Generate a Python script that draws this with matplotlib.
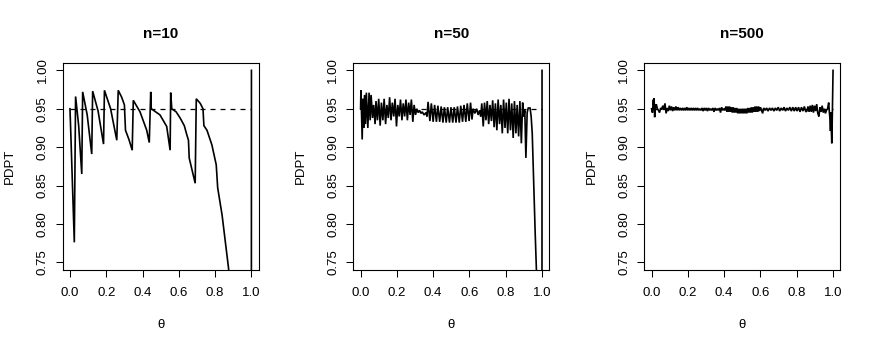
import matplotlib
matplotlib.use("Agg")
import matplotlib.pyplot as plt

plt.rcParams["font.family"] = ["Liberation Sans", "DejaVu Sans"]

# coverage curves
n10_theta = [0.000, 0.003, 0.024, 0.031, 0.048, 0.065, 0.070, 0.095, 0.120,
             0.125, 0.155, 0.185, 0.190, 0.224, 0.258, 0.266, 0.285, 0.300,
             0.306, 0.325, 0.343, 0.349, 0.386, 0.423, 0.437, 0.445, 0.448,
             0.496, 0.533, 0.552, 0.555, 0.561, 0.585, 0.607, 0.630, 0.644,
             0.653, 0.657, 0.690, 0.696, 0.718, 0.733, 0.738, 0.755, 0.782,
             0.806, 0.814, 0.838, 0.856, 0.874, 0.900, 0.950, 0.999, 1.000]
n10_pdpt = [0.950, 0.930, 0.776, 0.966, 0.928, 0.865, 0.972, 0.942, 0.891,
            0.973, 0.947, 0.904, 0.974, 0.950, 0.909, 0.974, 0.965, 0.955,
            0.922, 0.910, 0.896, 0.961, 0.946, 0.922, 0.906, 0.972, 0.950,
            0.942, 0.927, 0.896, 0.971, 0.950, 0.946, 0.938, 0.928, 0.916,
            0.909, 0.886, 0.853, 0.963, 0.957, 0.950, 0.928, 0.922, 0.903,
            0.877, 0.847, 0.812, 0.777, 0.742, 0.620, 0.350, 0.000, 1.000]

n50_theta = [0.000, 0.002, 0.009, 0.013, 0.017, 0.022, 0.027, 0.032, 0.040,
             0.047, 0.053, 0.058, 0.066, 0.072, 0.080, 0.085, 0.093, 0.100,
             0.108, 0.115, 0.123, 0.130, 0.138, 0.145, 0.153, 0.160, 0.168,
             0.175, 0.183, 0.190, 0.198, 0.205, 0.213, 0.220, 0.228, 0.235,
             0.243, 0.250, 0.258, 0.265, 0.273, 0.280, 0.288, 0.295, 0.303,
             0.310, 0.318, 0.325, 0.333, 0.340, 0.350, 0.360, 0.366, 0.372,
             0.382, 0.390, 0.400, 0.408, 0.418, 0.426, 0.436, 0.444, 0.454,
             0.462, 0.472, 0.480, 0.490, 0.498, 0.508, 0.516, 0.526, 0.534,
             0.544, 0.552, 0.562, 0.570, 0.580, 0.588, 0.598, 0.606, 0.614,
             0.620, 0.630, 0.640, 0.648, 0.656, 0.662, 0.668, 0.676, 0.683,
             0.691, 0.698, 0.706, 0.713, 0.721, 0.728, 0.736, 0.743, 0.751,
             0.758, 0.766, 0.773, 0.781, 0.788, 0.796, 0.803, 0.811, 0.818,
             0.826, 0.833, 0.841, 0.848, 0.856, 0.863, 0.871, 0.878, 0.886,
             0.893, 0.899, 0.905, 0.911, 0.918, 0.924, 0.934, 0.940, 0.946,
             0.954, 0.962, 0.969, 0.975, 0.990, 0.999, 1.000]
n50_pdpt = [0.950, 0.974, 0.910, 0.963, 0.925, 0.968, 0.930, 0.971, 0.925,
            0.971, 0.935, 0.968, 0.938, 0.955, 0.930, 0.960, 0.935, 0.963,
            0.928, 0.958, 0.935, 0.963, 0.930, 0.955, 0.938, 0.965, 0.935,
            0.958, 0.940, 0.963, 0.927, 0.955, 0.940, 0.962, 0.935, 0.957,
            0.940, 0.962, 0.935, 0.958, 0.942, 0.962, 0.933, 0.955, 0.942,
            0.950, 0.945, 0.948, 0.944, 0.946, 0.942, 0.945, 0.940, 0.959,
            0.934, 0.957, 0.933, 0.955, 0.933, 0.954, 0.933, 0.953, 0.932,
            0.952, 0.932, 0.952, 0.932, 0.952, 0.932, 0.952, 0.932, 0.953,
            0.932, 0.954, 0.933, 0.955, 0.933, 0.957, 0.934, 0.958, 0.936,
            0.950, 0.944, 0.950, 0.942, 0.948, 0.940, 0.957, 0.927, 0.958,
            0.935, 0.960, 0.930, 0.955, 0.934, 0.961, 0.926, 0.957, 0.922,
            0.962, 0.930, 0.955, 0.918, 0.962, 0.925, 0.958, 0.918, 0.963,
            0.922, 0.957, 0.912, 0.960, 0.918, 0.955, 0.914, 0.960, 0.905,
            0.958, 0.940, 0.948, 0.886, 0.945, 0.951, 0.951, 0.940, 0.918,
            0.853, 0.790, 0.740, 0.600, 0.200, 0.000, 1.000]

n500_theta = [0.000, 0.005, 0.010, 0.012, 0.014, 0.017, 0.022, 0.026, 0.032,
              0.038, 0.044, 0.050, 0.056, 0.062, 0.068, 0.074, 0.080, 0.086,
              0.092, 0.098, 0.104, 0.110, 0.116, 0.122, 0.128, 0.134, 0.140,
              0.146, 0.152, 0.158, 0.164, 0.170, 0.176, 0.182, 0.188, 0.194,
              0.200, 0.206, 0.212, 0.218, 0.224, 0.230, 0.236, 0.242, 0.248,
              0.254, 0.260, 0.266, 0.272, 0.278, 0.284, 0.290, 0.296, 0.302,
              0.308, 0.314, 0.320, 0.326, 0.332, 0.338, 0.344, 0.350, 0.356,
              0.362, 0.368, 0.374, 0.380, 0.386, 0.392, 0.398, 0.404,
              0.410, 0.415, 0.420, 0.425, 0.430, 0.435, 0.440, 0.445, 0.450,
              0.455, 0.460, 0.465, 0.470, 0.475, 0.480, 0.485, 0.490, 0.495,
              0.500, 0.505, 0.510, 0.515, 0.520, 0.525, 0.530, 0.535, 0.540,
              0.545, 0.550, 0.555, 0.560, 0.565, 0.570, 0.575, 0.580, 0.585,
              0.590, 0.595, 0.600, 0.606, 0.612, 0.618, 0.626, 0.634, 0.642,
              0.650, 0.658, 0.666, 0.674, 0.682, 0.690, 0.698, 0.706, 0.714,
              0.722, 0.730, 0.738, 0.746, 0.754, 0.762, 0.770, 0.778, 0.786,
              0.794, 0.802, 0.810, 0.818, 0.826, 0.834, 0.842, 0.850, 0.856,
              0.862, 0.868, 0.874, 0.880, 0.886, 0.892, 0.898, 0.904, 0.910,
              0.916, 0.922, 0.928, 0.934, 0.940, 0.946, 0.952, 0.958, 0.964,
              0.970, 0.976, 0.980, 0.984, 0.986, 0.988, 0.990, 0.993, 0.996,
              1.000]
n500_pdpt = [0.950, 0.945, 0.962, 0.955, 0.964, 0.939, 0.952, 0.956, 0.950,
             0.948, 0.945, 0.951, 0.949, 0.954, 0.950, 0.957, 0.944, 0.951,
             0.947, 0.954, 0.948, 0.953, 0.947, 0.952, 0.948, 0.953, 0.948,
             0.952, 0.948, 0.951, 0.948, 0.951, 0.948, 0.951, 0.948, 0.952,
             0.948, 0.951, 0.948, 0.951, 0.948, 0.951, 0.948, 0.951, 0.948,
             0.951, 0.948, 0.950, 0.948, 0.951, 0.947, 0.951, 0.948, 0.951,
             0.947, 0.951, 0.948, 0.950, 0.948, 0.951, 0.946, 0.951, 0.948,
             0.950, 0.948, 0.951, 0.945, 0.952, 0.948, 0.950, 0.948,
             0.953, 0.946, 0.953, 0.946, 0.953, 0.946, 0.952, 0.945, 0.952,
             0.945, 0.951, 0.945, 0.951, 0.944, 0.950, 0.944, 0.950, 0.944,
             0.950, 0.944, 0.950, 0.944, 0.950, 0.944, 0.951, 0.945, 0.951,
             0.945, 0.952, 0.945, 0.952, 0.946, 0.953, 0.946, 0.953, 0.946,
             0.953, 0.947, 0.952, 0.948, 0.944, 0.951, 0.948, 0.951, 0.947,
             0.951, 0.948, 0.951, 0.947, 0.951, 0.948, 0.952, 0.947, 0.951,
             0.948, 0.952, 0.947, 0.951, 0.948, 0.952, 0.947, 0.952, 0.947,
             0.952, 0.947, 0.952, 0.946, 0.952, 0.947, 0.953, 0.946, 0.947,
             0.953, 0.946, 0.954, 0.946, 0.955, 0.945, 0.954, 0.947, 0.956,
             0.944, 0.940, 0.952, 0.946, 0.954, 0.945, 0.950, 0.944, 0.948,
             0.950, 0.958, 0.945, 0.935, 0.921, 0.945, 0.930, 0.905, 0.940,
             1.000]

panels = [("n=10", n10_theta, n10_pdpt),
          ("n=50", n50_theta, n50_pdpt),
          ("n=500", n500_theta, n500_pdpt)]
nominal = 0.95
x_ticks = [0.0, 0.2, 0.4, 0.6, 0.8, 1.0]
y_ticks = [0.75, 0.80, 0.85, 0.90, 0.95, 1.00]

W, H = 872, 349
fig = plt.figure(figsize=(W / 100, H / 100), dpi=100)
lefts = [62.7, 353.3, 644.3]
box_w, box_top, box_bot = 196, 62.7, 270

for left, (title, theta, pdpt) in zip(lefts, panels):
    ax = fig.add_axes([left / W, (H - box_bot) / H, box_w / W, (box_bot - box_top) / H])
    ax.plot(theta, pdpt, color="black", lw=1.2, solid_joinstyle="miter")
    ax.plot([0, 1], [nominal, nominal], color="black", lw=0.9, ls=(0, (4, 4)))
    ax.set_xlim(-0.04, 1.04)
    ax.set_ylim(0.74, 1.01)
    ax.set_xticks(x_ticks)
    ax.set_xticklabels([f"{t:.1f}" for t in x_ticks])
    ax.set_yticks(y_ticks)
    ax.set_yticklabels([f"{t:.2f}" for t in y_ticks], rotation=90, va="center")
    ax.tick_params(direction="out", length=5, width=0.75, labelsize=9.5, pad=7)
    ax.tick_params(axis="y", pad=5)
    for s in ax.spines.values():
        s.set_linewidth(0.8)
    ax.text(0.5, 1.138, title, transform=ax.transAxes, ha="center", va="center",
            fontsize=11, fontweight="bold")
    ax.text(-0.269, 0.5, "PDPT", transform=ax.transAxes, ha="center", va="center",
            rotation=90, fontsize=9.5)
    ax.text(0.5, -0.265, "θ", transform=ax.transAxes, ha="center", va="center",
            fontsize=9.5)

fig.savefig("out.png", dpi=100)
